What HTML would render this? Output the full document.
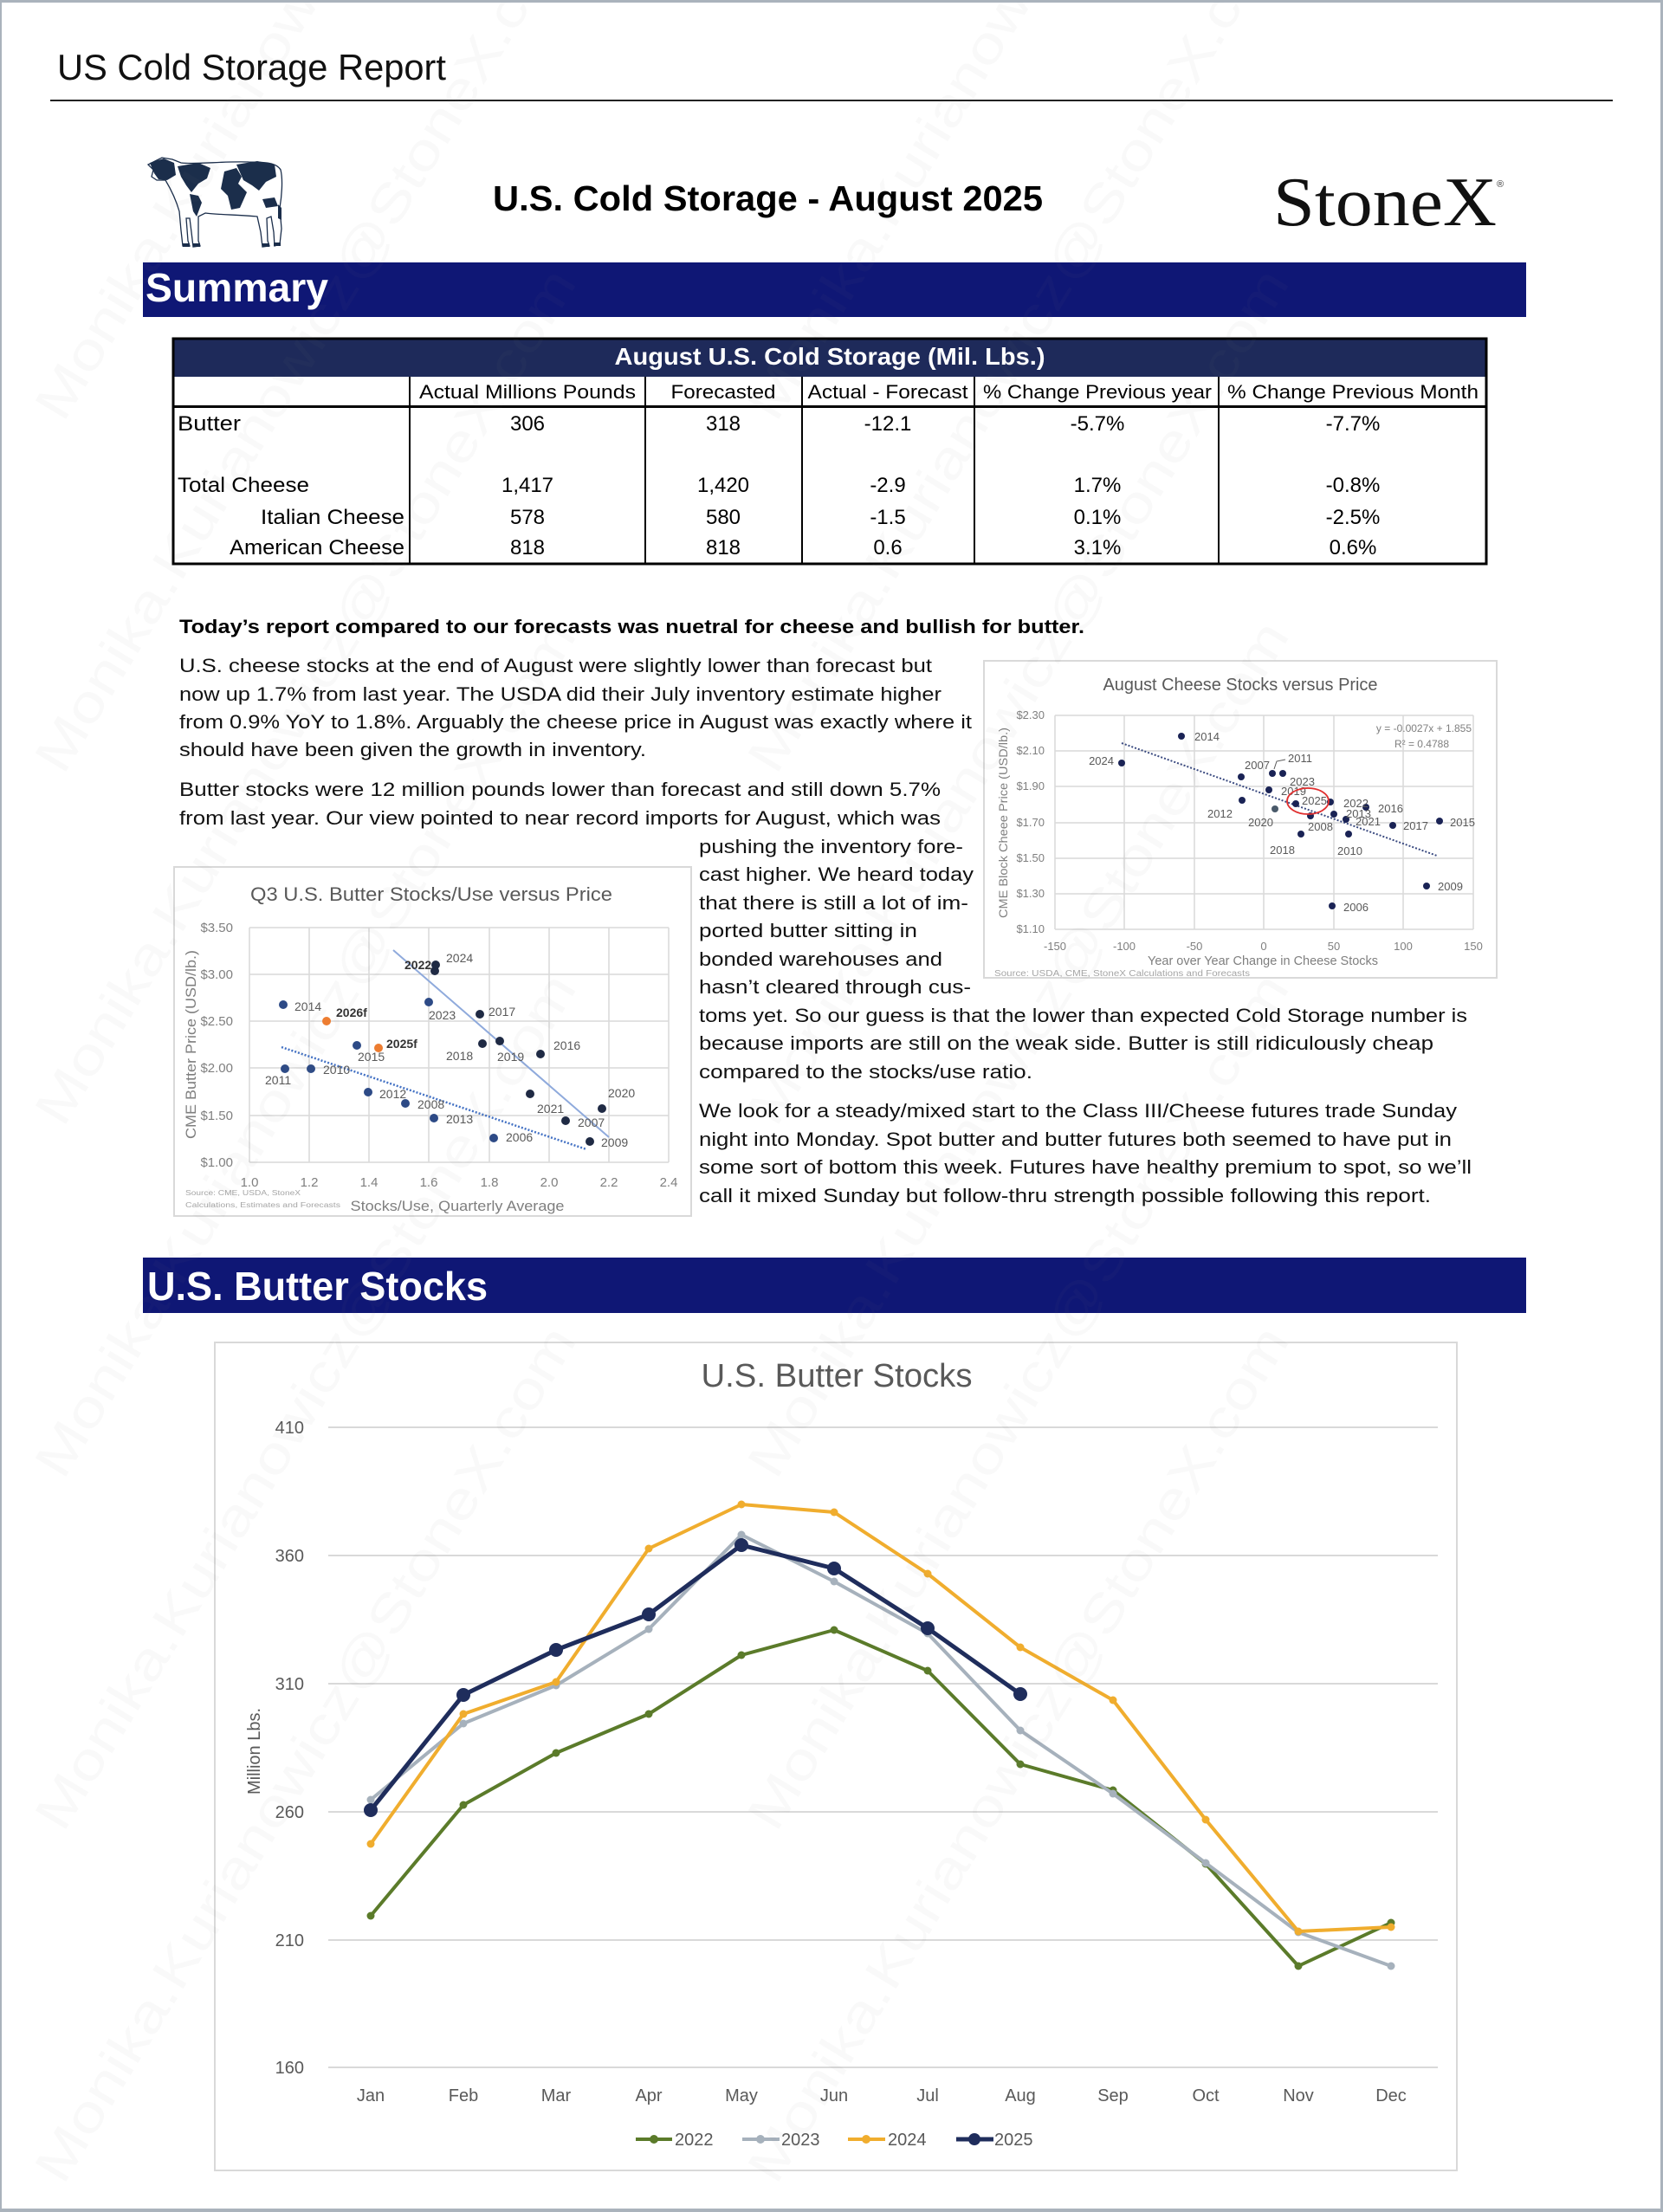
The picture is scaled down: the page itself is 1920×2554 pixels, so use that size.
<!DOCTYPE html>
<html><head><meta charset="utf-8"><title>US Cold Storage Report</title>
<style>
html,body{margin:0;padding:0;background:#fff;}
svg{display:block;}
text{font-family:"Liberation Sans",Arial,sans-serif;}
</style></head><body>
<svg width="1920" height="2554" viewBox="0 0 1920 2554" xmlns="http://www.w3.org/2000/svg">
<rect x="0" y="0" width="1920" height="2554" fill="#fff"/>

<!-- Header -->
<text x="66" y="92" font-size="42" fill="#111" textLength="449" lengthAdjust="spacingAndGlyphs">US Cold Storage Report</text>
<rect x="58" y="115" width="1804" height="2" fill="#222"/>

<!-- Cow -->
<g transform="translate(167,178)">
  <path d="M12,8 L20,4 L32,6 L42,10 C60,12 90,8 120,9 C140,9 152,10 157,18 C160,30 158,50 156,62 L158,86 L156,104 L150,106 L149,90 L146,72 L141,74 L142,100 L144,106 L136,107 L134,90 L130,72 C110,70 85,70 70,68 L62,72 L62,100 L64,106 L56,107 L54,90 L52,74 L48,74 L50,100 L52,106 L44,106 L42,88 L40,66 C36,52 30,40 24,30 L14,30 L8,26 L10,18 L4,12 Z" fill="#fff" stroke="#1b2e4b" stroke-width="1.3"/>
  <path d="M6,10 L22,5 L34,10 L36,24 L26,30 L16,29 L11,22 Z" fill="#1b2e4b"/>
  <path d="M38,14 L62,10 L76,16 L72,28 L62,34 L54,44 L48,36 L42,26 Z" fill="#1b2e4b"/>
  <path d="M52,46 L62,48 L66,56 L60,72 L56,66 Z" fill="#1b2e4b"/>
  <path d="M92,20 L106,16 L112,26 L108,34 L118,44 L110,62 L100,64 L96,48 L88,40 L90,30 Z" fill="#1b2e4b"/>
  <path d="M106,12 L130,8 L150,12 L152,26 L140,32 L132,42 L124,36 L114,30 Z" fill="#1b2e4b"/>
  <path d="M136,52 L150,50 L154,60 L140,62 Z" fill="#1b2e4b"/>
  <path d="M154,58 L158,62 L158,76 L154,74 Z" fill="#1b2e4b"/>
  <rect x="44" y="103" width="8" height="4" fill="#1b2e4b"/>
  <rect x="56" y="103" width="8" height="4" fill="#1b2e4b"/>
  <rect x="136" y="103" width="8" height="4" fill="#1b2e4b"/>
  <rect x="149" y="102" width="8" height="4" fill="#1b2e4b"/>
</g>

<!-- Title -->
<text x="569" y="243" font-size="41" font-weight="bold" fill="#000" textLength="635" lengthAdjust="spacingAndGlyphs">U.S. Cold Storage - August 2025</text>
<!-- StoneX logo -->
<text x="1470" y="260" font-size="80" fill="#111" textLength="258" lengthAdjust="spacingAndGlyphs" style="font-family:'Liberation Serif',serif">StoneX</text>
<text x="1728" y="216" font-size="11" fill="#333">®</text>

<!-- Summary bar -->
<rect x="165" y="303" width="1597" height="63" fill="#0f1775"/>
<text x="168" y="348" font-size="46" font-weight="bold" fill="#fff" textLength="211" lengthAdjust="spacingAndGlyphs">Summary</text>

<!-- Table -->
<rect x="200" y="392" width="1516" height="43" fill="#1e2a5a"/>
<text x="958" y="421" font-size="28" font-weight="bold" fill="#fff" text-anchor="middle" textLength="497" lengthAdjust="spacingAndGlyphs">August U.S. Cold Storage (Mil. Lbs.)</text>
<rect x="200" y="391" width="1516" height="260" fill="none" stroke="#000" stroke-width="3"/>
<rect x="200" y="468" width="1516" height="3" fill="#000"/>
<g fill="#000">
  <rect x="472" y="435" width="2" height="215"/>
  <rect x="744" y="435" width="2" height="215"/>
  <rect x="925" y="435" width="2" height="215"/>
  <rect x="1124" y="435" width="2" height="215"/>
  <rect x="1406" y="435" width="2" height="215"/>
</g>
<g font-size="22" fill="#000" text-anchor="middle">
  <text x="609" y="460" textLength="250" lengthAdjust="spacingAndGlyphs">Actual Millions Pounds</text>
  <text x="835" y="460" textLength="121" lengthAdjust="spacingAndGlyphs">Forecasted</text>
  <text x="1025" y="460" textLength="185" lengthAdjust="spacingAndGlyphs">Actual - Forecast</text>
  <text x="1267" y="460" textLength="264" lengthAdjust="spacingAndGlyphs">% Change Previous year</text>
  <text x="1562" y="460" textLength="290" lengthAdjust="spacingAndGlyphs">% Change Previous Month</text>
</g>
<g font-size="24" fill="#000">
  <text x="205" y="497" textLength="73" lengthAdjust="spacingAndGlyphs">Butter</text>
  <text x="205" y="568" textLength="152" lengthAdjust="spacingAndGlyphs">Total Cheese</text>
  <text x="467" y="605" text-anchor="end" textLength="166" lengthAdjust="spacingAndGlyphs">Italian Cheese</text>
  <text x="467" y="640" text-anchor="end" textLength="202" lengthAdjust="spacingAndGlyphs">American Cheese</text>
</g>
<g font-size="24" fill="#000" text-anchor="middle">
  <text x="609" y="497">306</text><text x="835" y="497">318</text><text x="1025" y="497">-12.1</text><text x="1267" y="497">-5.7%</text><text x="1562" y="497">-7.7%</text>
  <text x="609" y="568">1,417</text><text x="835" y="568">1,420</text><text x="1025" y="568">-2.9</text><text x="1267" y="568">1.7%</text><text x="1562" y="568">-0.8%</text>
  <text x="609" y="605">578</text><text x="835" y="605">580</text><text x="1025" y="605">-1.5</text><text x="1267" y="605">0.1%</text><text x="1562" y="605">-2.5%</text>
  <text x="609" y="640">818</text><text x="835" y="640">818</text><text x="1025" y="640">0.6</text><text x="1267" y="640">3.1%</text><text x="1562" y="640">0.6%</text>
</g>

<!-- Body text -->
<text x="207" y="731" font-size="22" font-weight="bold" fill="#000" textLength="1045" lengthAdjust="spacingAndGlyphs">Today’s report compared to our forecasts was nuetral for cheese and bullish for butter.</text>
<g font-size="22" fill="#111">
  <text x="207" y="776" textLength="869" lengthAdjust="spacingAndGlyphs">U.S. cheese stocks at the end of August were slightly lower than forecast but</text>
  <text x="207" y="809" textLength="880" lengthAdjust="spacingAndGlyphs">now up 1.7% from last year. The USDA did their July inventory estimate higher</text>
  <text x="207" y="841" textLength="915" lengthAdjust="spacingAndGlyphs">from 0.9% YoY to 1.8%. Arguably the cheese price in August was exactly where it</text>
  <text x="207" y="873" textLength="539" lengthAdjust="spacingAndGlyphs">should have been given the growth in inventory.</text>
  <text x="207" y="919" textLength="879" lengthAdjust="spacingAndGlyphs">Butter stocks were 12 million pounds lower than forecast and still down 5.7%</text>
  <text x="207" y="952" textLength="879" lengthAdjust="spacingAndGlyphs">from last year. Our view pointed to near record imports for August, which was</text>
  <text x="807" y="985" textLength="305" lengthAdjust="spacingAndGlyphs">pushing the inventory fore-</text>
  <text x="807" y="1017" textLength="317" lengthAdjust="spacingAndGlyphs">cast higher. We heard today</text>
  <text x="807" y="1050" textLength="311" lengthAdjust="spacingAndGlyphs">that there is still a lot of im-</text>
  <text x="807" y="1082" textLength="252" lengthAdjust="spacingAndGlyphs">ported butter sitting in</text>
  <text x="807" y="1115" textLength="281" lengthAdjust="spacingAndGlyphs">bonded warehouses and</text>
  <text x="807" y="1147" textLength="314" lengthAdjust="spacingAndGlyphs">hasn’t cleared through cus-</text>
  <text x="807" y="1180" textLength="887" lengthAdjust="spacingAndGlyphs">toms yet. So our guess is that the lower than expected Cold Storage number is</text>
  <text x="807" y="1212" textLength="848" lengthAdjust="spacingAndGlyphs">because imports are still on the weak side. Butter is still ridiculously cheap</text>
  <text x="807" y="1245" textLength="385" lengthAdjust="spacingAndGlyphs">compared to the stocks/use ratio.</text>
  <text x="807" y="1290" textLength="875" lengthAdjust="spacingAndGlyphs">We look for a steady/mixed start to the Class III/Cheese futures trade Sunday</text>
  <text x="807" y="1323" textLength="869" lengthAdjust="spacingAndGlyphs">night into Monday. Spot butter and butter futures both seemed to have put in</text>
  <text x="807" y="1355" textLength="892" lengthAdjust="spacingAndGlyphs">some sort of bottom this week. Futures have healthy premium to spot, so we’ll</text>
  <text x="807" y="1388" textLength="845" lengthAdjust="spacingAndGlyphs">call it mixed Sunday but follow-thru strength possible following this report.</text>
</g>

<!-- Cheese chart -->
<g>
  <rect x="1136" y="763" width="592" height="366" fill="#fff" stroke="#d9d9d9" stroke-width="2"/>
  <g stroke="#d9d9d9" stroke-width="1.5">
    <line x1="1218" y1="826" x2="1701" y2="826"/><line x1="1218" y1="867" x2="1701" y2="867"/>
    <line x1="1218" y1="908" x2="1701" y2="908"/><line x1="1218" y1="950" x2="1701" y2="950"/>
    <line x1="1218" y1="991" x2="1701" y2="991"/><line x1="1218" y1="1032" x2="1701" y2="1032"/>
    <line x1="1218" y1="1073" x2="1701" y2="1073"/>
    <line x1="1218" y1="826" x2="1218" y2="1073"/><line x1="1298" y1="826" x2="1298" y2="1073"/>
    <line x1="1379" y1="826" x2="1379" y2="1073"/><line x1="1459" y1="826" x2="1459" y2="1073"/>
    <line x1="1540" y1="826" x2="1540" y2="1073"/><line x1="1620" y1="826" x2="1620" y2="1073"/>
    <line x1="1701" y1="826" x2="1701" y2="1073"/>
  </g>
  <text x="1432" y="797" font-size="20" fill="#595959" text-anchor="middle" textLength="317" lengthAdjust="spacingAndGlyphs">August Cheese Stocks versus Price</text>
  <g font-size="13" fill="#7f7f7f" text-anchor="end">
    <text x="1206" y="830">$2.30</text><text x="1206" y="871">$2.10</text><text x="1206" y="912">$1.90</text>
    <text x="1206" y="954">$1.70</text><text x="1206" y="995">$1.50</text><text x="1206" y="1036">$1.30</text>
    <text x="1206" y="1077">$1.10</text>
  </g>
  <g font-size="13" fill="#7f7f7f" text-anchor="middle">
    <text x="1218" y="1097">-150</text><text x="1298" y="1097">-100</text><text x="1379" y="1097">-50</text>
    <text x="1459" y="1097">0</text><text x="1540" y="1097">50</text><text x="1620" y="1097">100</text><text x="1701" y="1097">150</text>
  </g>
  <text x="1458" y="1114" font-size="15" fill="#7f7f7f" text-anchor="middle" textLength="266" lengthAdjust="spacingAndGlyphs">Year over Year Change in Cheese Stocks</text>
  <text transform="translate(1163,950) rotate(-90)" font-size="14" fill="#7f7f7f" text-anchor="middle" textLength="220" lengthAdjust="spacingAndGlyphs">CME Block Cheee Price (USD/lb.)</text>
  <text x="1148" y="1127" font-size="10" fill="#a6a6a6" textLength="295" lengthAdjust="spacingAndGlyphs">Source: USDA, CME, StoneX Calculations and Forecasts</text>
  <text x="1699" y="845" font-size="12" fill="#7f7f7f" text-anchor="end">y = -0.0027x + 1.855</text>
  <text x="1673" y="863" font-size="12" fill="#7f7f7f" text-anchor="end">R² = 0.4788</text>
  <line x1="1295" y1="858" x2="1659" y2="988" stroke="#3a4a80" stroke-width="2" stroke-dasharray="2,2"/>
  <g fill="#1a2355">
    <circle cx="1364" cy="850" r="4"/><circle cx="1295" cy="881" r="4"/><circle cx="1433" cy="897" r="4"/>
    <circle cx="1469" cy="893" r="4"/><circle cx="1481" cy="893" r="4"/><circle cx="1465" cy="912" r="4"/>
    <circle cx="1434" cy="924" r="4"/><circle cx="1472" cy="934" r="4" fill="#4a5a6a"/><circle cx="1496" cy="928" r="4"/>
    <circle cx="1536" cy="926" r="4"/><circle cx="1513" cy="942" r="4"/><circle cx="1502" cy="963" r="4"/>
    <circle cx="1540" cy="940" r="4"/><circle cx="1554" cy="946" r="4"/><circle cx="1557" cy="963" r="4"/>
    <circle cx="1577" cy="932" r="4"/><circle cx="1608" cy="953" r="4"/><circle cx="1662" cy="948" r="4"/>
    <circle cx="1647" cy="1023" r="4"/><circle cx="1538" cy="1046" r="4"/>
  </g>
  <g font-size="13" fill="#595959">
    <text x="1379" y="855">2014</text>
    <text x="1286" y="883" text-anchor="end">2024</text>
    <text x="1437" y="888">2007</text>
    <text x="1487" y="880">2011</text>
    <text x="1489" y="907">2023</text>
    <text x="1479" y="918">2019</text>
    <text x="1394" y="944">2012</text>
    <text x="1441" y="954">2020</text>
    <text x="1503" y="929">2025</text>
    <text x="1551" y="932">2022</text>
    <text x="1510" y="959">2008</text>
    <text x="1466" y="986">2018</text>
    <text x="1554" y="944">2013</text>
    <text x="1565" y="953">2021</text>
    <text x="1544" y="987">2010</text>
    <text x="1591" y="938">2016</text>
    <text x="1620" y="958">2017</text>
    <text x="1674" y="954">2015</text>
    <text x="1660" y="1028">2009</text>
    <text x="1551" y="1052">2006</text>
  </g>
  <polyline points="1471,888 1474,879 1484,877" fill="none" stroke="#595959" stroke-width="1"/>
  <ellipse cx="1510" cy="925" rx="24" ry="15" fill="none" stroke="#e03030" stroke-width="1.8"/>
</g>

<!-- Small butter chart -->
<g>
  <rect x="201" y="1001" width="597" height="403" fill="#fff" stroke="#d9d9d9" stroke-width="2"/>
  <g stroke="#d9d9d9" stroke-width="1.5">
    <line x1="288" y1="1071" x2="772" y2="1071"/><line x1="288" y1="1125" x2="772" y2="1125"/>
    <line x1="288" y1="1179" x2="772" y2="1179"/><line x1="288" y1="1233" x2="772" y2="1233"/>
    <line x1="288" y1="1288" x2="772" y2="1288"/><line x1="288" y1="1342" x2="772" y2="1342"/>
    <line x1="288" y1="1071" x2="288" y2="1342"/><line x1="357" y1="1071" x2="357" y2="1342"/>
    <line x1="426" y1="1071" x2="426" y2="1342"/><line x1="495" y1="1071" x2="495" y2="1342"/>
    <line x1="565" y1="1071" x2="565" y2="1342"/><line x1="634" y1="1071" x2="634" y2="1342"/>
    <line x1="703" y1="1071" x2="703" y2="1342"/><line x1="772" y1="1071" x2="772" y2="1342"/>
  </g>
  <text x="498" y="1040" font-size="22" fill="#595959" text-anchor="middle" textLength="418" lengthAdjust="spacingAndGlyphs">Q3 U.S. Butter Stocks/Use versus Price</text>
  <g font-size="15" fill="#7f7f7f" text-anchor="end">
    <text x="269" y="1076">$3.50</text><text x="269" y="1130">$3.00</text><text x="269" y="1184">$2.50</text>
    <text x="269" y="1238">$2.00</text><text x="269" y="1293">$1.50</text><text x="269" y="1347">$1.00</text>
  </g>
  <g font-size="15" fill="#7f7f7f" text-anchor="middle">
    <text x="288" y="1370">1.0</text><text x="357" y="1370">1.2</text><text x="426" y="1370">1.4</text>
    <text x="495" y="1370">1.6</text><text x="565" y="1370">1.8</text><text x="634" y="1370">2.0</text>
    <text x="703" y="1370">2.2</text><text x="772" y="1370">2.4</text>
  </g>
  <text x="528" y="1398" font-size="17" fill="#7f7f7f" text-anchor="middle" textLength="247" lengthAdjust="spacingAndGlyphs">Stocks/Use, Quarterly Average</text>
  <text transform="translate(226,1206) rotate(-90)" font-size="17" fill="#7f7f7f" text-anchor="middle" textLength="218" lengthAdjust="spacingAndGlyphs">CME Butter Price (USD/lb.)</text>
  <text x="214" y="1380" font-size="8" fill="#a6a6a6" textLength="133" lengthAdjust="spacingAndGlyphs">Source: CME, USDA, StoneX</text>
  <text x="214" y="1394" font-size="8" fill="#a6a6a6" textLength="179" lengthAdjust="spacingAndGlyphs">Calculations, Estimates and Forecasts</text>
  <line x1="454" y1="1097" x2="703" y2="1313" stroke="#8faadc" stroke-width="2"/>
  <line x1="325" y1="1209" x2="677" y2="1327" stroke="#4472c4" stroke-width="2.5" stroke-dasharray="2,2"/>
  <g fill="#2d4a86">
    <circle cx="327" cy="1160" r="5"/><circle cx="412" cy="1207" r="5"/><circle cx="329" cy="1234" r="5"/>
    <circle cx="359" cy="1234" r="5"/><circle cx="425" cy="1261" r="5"/><circle cx="468" cy="1274" r="5"/>
    <circle cx="501" cy="1291" r="5"/><circle cx="570" cy="1314" r="5"/><circle cx="495" cy="1157" r="5"/>
  </g>
  <g fill="#1f2a44">
    <circle cx="502" cy="1121" r="5"/><circle cx="503" cy="1114" r="5"/><circle cx="554" cy="1171" r="5"/>
    <circle cx="557" cy="1205" r="5"/><circle cx="577" cy="1202" r="5"/><circle cx="624" cy="1217" r="5"/>
    <circle cx="612" cy="1263" r="5"/><circle cx="695" cy="1280" r="5"/><circle cx="653" cy="1294" r="5"/>
    <circle cx="681" cy="1318" r="5"/>
  </g>
  <g fill="#ed7d31"><circle cx="377" cy="1179" r="5"/><circle cx="437" cy="1210" r="5"/></g>
  <g font-size="14" fill="#595959">
    <text x="340" y="1167">2014</text><text x="413" y="1225">2015</text><text x="306" y="1252">2011</text>
    <text x="373" y="1240">2010</text><text x="438" y="1268">2012</text><text x="482" y="1280">2008</text>
    <text x="515" y="1297">2013</text><text x="584" y="1318">2006</text><text x="495" y="1177">2023</text>
    <text x="564" y="1173">2017</text><text x="515" y="1224">2018</text><text x="574" y="1225">2019</text>
    <text x="639" y="1212">2016</text><text x="620" y="1285">2021</text><text x="702" y="1267">2020</text>
    <text x="667" y="1301">2007</text><text x="694" y="1324">2009</text>
  </g>
  <g font-size="14" fill="#333" font-weight="bold">
    <text x="467" y="1119">2022</text><text x="515" y="1111" font-weight="normal" fill="#595959">2024</text>
    <text x="388" y="1174">2026f</text><text x="446" y="1210">2025f</text>
  </g>
</g>

<!-- Section bar: U.S. Butter Stocks -->
<rect x="165" y="1452" width="1597" height="64" fill="#0f1775"/>
<text x="170" y="1501" font-size="46" font-weight="bold" fill="#fff" textLength="393" lengthAdjust="spacingAndGlyphs">U.S. Butter Stocks</text>

<!-- Main chart -->
<g>
  <rect x="248" y="1550" width="1434" height="956" fill="#fff" stroke="#d9d9d9" stroke-width="2"/>
  <text x="966" y="1601" font-size="38" fill="#595959" text-anchor="middle" textLength="313" lengthAdjust="spacingAndGlyphs">U.S. Butter Stocks</text>
  <g stroke="#d9d9d9" stroke-width="2">
    <line x1="379" y1="1648" x2="1660" y2="1648"/>
    <line x1="379" y1="1796" x2="1660" y2="1796"/>
    <line x1="379" y1="1944" x2="1660" y2="1944"/>
    <line x1="379" y1="2092" x2="1660" y2="2092"/>
    <line x1="379" y1="2240" x2="1660" y2="2240"/>
    <line x1="379" y1="2387" x2="1660" y2="2387"/>
  </g>
  <g font-size="20" fill="#595959" text-anchor="end">
    <text x="351" y="1655">410</text><text x="351" y="1803">360</text><text x="351" y="1951">310</text>
    <text x="351" y="2099">260</text><text x="351" y="2247">210</text><text x="351" y="2394">160</text>
  </g>
  <text transform="translate(300,2022) rotate(-90)" font-size="20" fill="#595959" text-anchor="middle">Million Lbs.</text>
  <g font-size="20" fill="#595959" text-anchor="middle">
    <text x="428" y="2426">Jan</text><text x="535" y="2426">Feb</text><text x="642" y="2426">Mar</text>
    <text x="749" y="2426">Apr</text><text x="856" y="2426">May</text><text x="963" y="2426">Jun</text>
    <text x="1071" y="2426">Jul</text><text x="1178" y="2426">Aug</text><text x="1285" y="2426">Sep</text>
    <text x="1392" y="2426">Oct</text><text x="1499" y="2426">Nov</text><text x="1606" y="2426">Dec</text>
  </g>
  <!-- 2022 -->
  <polyline points="428,2212 535,2084 642,2024 749,1979 856,1911 963,1882 1071,1929 1178,2037 1285,2067 1392,2152 1499,2270 1606,2220" fill="none" stroke="#5b7b2a" stroke-width="4" stroke-linejoin="round"/>
  <g fill="#5b7b2a">
    <circle cx="428" cy="2212" r="4.5"/><circle cx="535" cy="2084" r="4.5"/><circle cx="642" cy="2024" r="4.5"/><circle cx="749" cy="1979" r="4.5"/>
    <circle cx="856" cy="1911" r="4.5"/><circle cx="963" cy="1882" r="4.5"/><circle cx="1071" cy="1929" r="4.5"/><circle cx="1178" cy="2037" r="4.5"/>
    <circle cx="1285" cy="2067" r="4.5"/><circle cx="1392" cy="2152" r="4.5"/><circle cx="1499" cy="2270" r="4.5"/><circle cx="1606" cy="2220" r="4.5"/>
  </g>
  <!-- 2023 -->
  <polyline points="428,2078 535,1990 642,1946 749,1881 856,1772 963,1826 1071,1886 1178,1998 1285,2071 1392,2151 1499,2231 1606,2270" fill="none" stroke="#a6b1bc" stroke-width="4" stroke-linejoin="round"/>
  <g fill="#a6b1bc">
    <circle cx="428" cy="2078" r="4.5"/><circle cx="535" cy="1990" r="4.5"/><circle cx="642" cy="1946" r="4.5"/><circle cx="749" cy="1881" r="4.5"/>
    <circle cx="856" cy="1772" r="4.5"/><circle cx="963" cy="1826" r="4.5"/><circle cx="1071" cy="1886" r="4.5"/><circle cx="1178" cy="1998" r="4.5"/>
    <circle cx="1285" cy="2071" r="4.5"/><circle cx="1392" cy="2151" r="4.5"/><circle cx="1499" cy="2231" r="4.5"/><circle cx="1606" cy="2270" r="4.5"/>
  </g>
  <!-- 2024 -->
  <polyline points="428,2129 535,1979 642,1942 749,1788 856,1737 963,1746 1071,1817 1178,1902 1285,1963 1392,2101 1499,2230 1606,2225" fill="none" stroke="#f0ad2e" stroke-width="4" stroke-linejoin="round"/>
  <g fill="#f0ad2e">
    <circle cx="428" cy="2129" r="4.5"/><circle cx="535" cy="1979" r="4.5"/><circle cx="642" cy="1942" r="4.5"/><circle cx="749" cy="1788" r="4.5"/>
    <circle cx="856" cy="1737" r="4.5"/><circle cx="963" cy="1746" r="4.5"/><circle cx="1071" cy="1817" r="4.5"/><circle cx="1178" cy="1902" r="4.5"/>
    <circle cx="1285" cy="1963" r="4.5"/><circle cx="1392" cy="2101" r="4.5"/><circle cx="1499" cy="2230" r="4.5"/><circle cx="1606" cy="2225" r="4.5"/>
  </g>
  <!-- 2025 -->
  <polyline points="428,2090 535,1957 642,1905 749,1864 856,1784 963,1811 1071,1880 1178,1956" fill="none" stroke="#1f2d5c" stroke-width="5" stroke-linejoin="round"/>
  <g fill="#1f2d5c">
    <circle cx="428" cy="2090" r="8"/><circle cx="535" cy="1957" r="8"/><circle cx="642" cy="1905" r="8"/><circle cx="749" cy="1864" r="8"/>
    <circle cx="856" cy="1784" r="8"/><circle cx="963" cy="1811" r="8"/><circle cx="1071" cy="1880" r="8"/><circle cx="1178" cy="1956" r="8"/>
  </g>
  <!-- Legend -->
  <g>
    <line x1="734" y1="2470" x2="776" y2="2470" stroke="#5b7b2a" stroke-width="4"/><circle cx="755" cy="2470" r="5" fill="#5b7b2a"/>
    <text x="779" y="2477" font-size="20" fill="#595959">2022</text>
    <line x1="857" y1="2470" x2="900" y2="2470" stroke="#a6b1bc" stroke-width="4"/><circle cx="878" cy="2470" r="5" fill="#a6b1bc"/>
    <text x="902" y="2477" font-size="20" fill="#595959">2023</text>
    <line x1="979" y1="2470" x2="1022" y2="2470" stroke="#f0ad2e" stroke-width="4"/><circle cx="1000" cy="2470" r="5" fill="#f0ad2e"/>
    <text x="1025" y="2477" font-size="20" fill="#595959">2024</text>
    <line x1="1104" y1="2470" x2="1147" y2="2470" stroke="#1f2d5c" stroke-width="5"/><circle cx="1125" cy="2470" r="7" fill="#1f2d5c"/>
    <text x="1148" y="2477" font-size="20" fill="#595959">2025</text>
  </g>
</g>

<!-- Watermark -->
<g fill="#808080" opacity="0.05" font-size="60">
  <text transform="translate(73,489) rotate(-58.7)" textLength="1143" lengthAdjust="spacingAndGlyphs">Monika.Kurianowicz@StoneX.com</text>
  <text transform="translate(73,896) rotate(-58.7)" textLength="1143" lengthAdjust="spacingAndGlyphs">Monika.Kurianowicz@StoneX.com</text>
  <text transform="translate(73,1303) rotate(-58.7)" textLength="1143" lengthAdjust="spacingAndGlyphs">Monika.Kurianowicz@StoneX.com</text>
  <text transform="translate(73,1710) rotate(-58.7)" textLength="1143" lengthAdjust="spacingAndGlyphs">Monika.Kurianowicz@StoneX.com</text>
  <text transform="translate(73,2117) rotate(-58.7)" textLength="1143" lengthAdjust="spacingAndGlyphs">Monika.Kurianowicz@StoneX.com</text>
  <text transform="translate(73,2524) rotate(-58.7)" textLength="1143" lengthAdjust="spacingAndGlyphs">Monika.Kurianowicz@StoneX.com</text>
  <text transform="translate(896,489) rotate(-58.7)" textLength="1143" lengthAdjust="spacingAndGlyphs">Monika.Kurianowicz@StoneX.com</text>
  <text transform="translate(896,896) rotate(-58.7)" textLength="1143" lengthAdjust="spacingAndGlyphs">Monika.Kurianowicz@StoneX.com</text>
  <text transform="translate(896,1303) rotate(-58.7)" textLength="1143" lengthAdjust="spacingAndGlyphs">Monika.Kurianowicz@StoneX.com</text>
  <text transform="translate(896,1710) rotate(-58.7)" textLength="1143" lengthAdjust="spacingAndGlyphs">Monika.Kurianowicz@StoneX.com</text>
  <text transform="translate(896,2117) rotate(-58.7)" textLength="1143" lengthAdjust="spacingAndGlyphs">Monika.Kurianowicz@StoneX.com</text>
  <text transform="translate(896,2524) rotate(-58.7)" textLength="1143" lengthAdjust="spacingAndGlyphs">Monika.Kurianowicz@StoneX.com</text>
</g>

<!-- Page frame -->
<rect x="0" y="0" width="1920" height="3" fill="#aab3bc"/>
<rect x="0" y="0" width="2" height="2554" fill="#aab3bc"/>
<rect x="1917" y="0" width="3" height="2554" fill="#aab3bc"/>
<rect x="0" y="2550" width="1920" height="4" fill="#aab3bc"/>
</svg>
</body></html>
